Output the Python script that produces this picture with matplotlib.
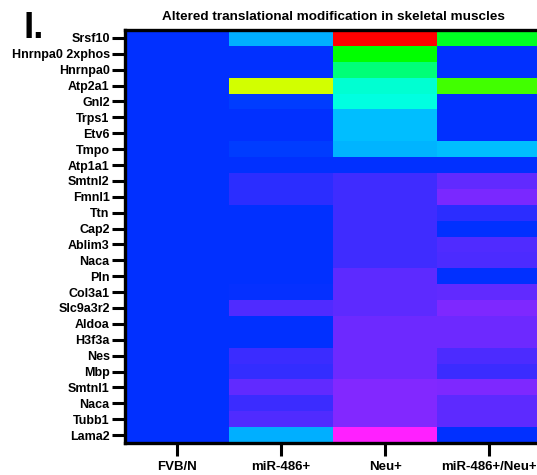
import colorsys
import numpy as np
import matplotlib
matplotlib.use('Agg')
import matplotlib.pyplot as plt
from matplotlib.colors import LinearSegmentedColormap

plt.rcParams['font.family'] = ['Liberation Sans', 'DejaVu Sans']
plt.rcParams['font.weight'] = 'bold'

# data (relative change, 0 = FVB/N baseline)
proteins = ['Srsf10', 'Hnrnpa0 2xphos', 'Hnrnpa0', 'Atp2a1', 'Gnl2', 'Trps1', 'Etv6',
            'Tmpo', 'Atp1a1', 'Smtnl2', 'Fmnl1', 'Ttn', 'Cap2', 'Ablim3', 'Naca', 'Pln',
            'Col3a1', 'Slc9a3r2', 'Aldoa', 'H3f3a', 'Nes', 'Mbp', 'Smtnl1', 'Naca',
            'Tubb1', 'Lama2']
groups = ['FVB/N', 'miR-486+', 'Neu+', 'miR-486+/Neu+']

fvb = [0.0] * 26
mir486 = [0.40, 0.0, 0.0, 2.18, 0.04, 0.0, 0.0, 0.04, 0.0, -0.165, -0.165, 0.0, 0.0,
          0.0, 0.0, 0.0, -0.02, -0.31, 0.0, 0.0, -0.23, -0.19, -0.38, -0.23, -0.31, 0.40]
neu = [3.17, 1.50, 1.11, 0.82, 0.77, 0.46, 0.45, 0.43, 0.0, -0.25, -0.25, -0.25,
       -0.25, -0.25, -0.25, -0.35, -0.35, -0.35, -0.42, -0.42, -0.42, -0.42, -0.50,
       -0.50, -0.50, -1.0]
mir486_neu = [1.38, 0.0, 0.0, 1.71, 0.0, 0.0, 0.0, 0.46, 0.0, -0.38, -0.47, -0.165,
              0.0, -0.31, -0.29, 0.0, -0.38, -0.48, -0.42, -0.42, -0.29, -0.23,
              -0.48, -0.35, -0.35, 0.0]

vals = np.array([fvb, mir486, neu, mir486_neu]).T

vmin, vmax = -1.0, 228 / 72
# low side: magenta -> blue, high side: blue -> cyan -> green -> yellow -> red
f0 = (0 - vmin) / (vmax - vmin)
stops = [(0.0, (1.0, 32/255, 1.0)), (f0, (0.0, 48/255, 1.0))]
for h in np.linspace(228, 0, 229)[1:]:
    stops.append((f0 + (228 - h) / 228 * (1 - f0), colorsys.hsv_to_rgb(h / 360, 1, 1)))
cmap = LinearSegmentedColormap.from_list('rb', stops)

fig = plt.figure(figsize=(5.37, 4.75), dpi=100)
ax = fig.add_axes([125/537, 32/475, 416/537, 413/475])
ax.pcolormesh(vals, cmap=cmap, vmin=vmin, vmax=vmax)
ax.set_xlim(0, 4)
ax.set_ylim(26, 0)

ax.set_xticks(np.arange(4) + 0.5)
ax.set_xticklabels(groups, fontsize=9.5, fontweight='bold')
ax.set_yticks(np.arange(26) + 0.5)
ax.set_yticklabels(proteins, fontsize=9, fontweight='bold')
ax.tick_params(axis='y', length=9.5, width=2.2, pad=1.5)
ax.tick_params(axis='x', length=9, width=2.2, pad=4)
for s in ['left', 'top', 'bottom']:
    ax.spines[s].set_linewidth(2.4)
ax.spines['right'].set_visible(False)

ax.set_title('Altered translational modification in skeletal muscles',
             fontsize=9.7, fontweight='bold', pad=7)
# panel letter
fig.text(24/537, 1 - 38.5/475, 'I.', fontsize=26.5, fontweight='bold', ha='left', va='baseline')

fig.savefig('out.png', dpi=100)
